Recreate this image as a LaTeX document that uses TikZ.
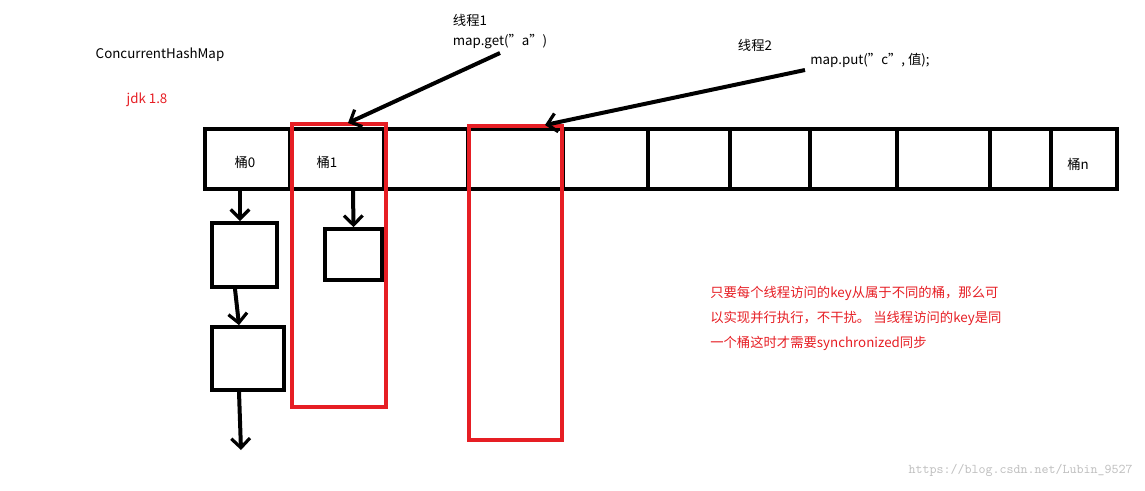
\documentclass[tikz,border=0pt]{standalone}
\usepackage{fontspec}
\setmainfont{Noto Sans CJK SC}
\usetikzlibrary{arrows.meta}
\tikzset{%
  tipV/.tip={Straight Barb[length=7pt,width=14pt,line width=2.4pt]},
  blk/.style={draw=black, line width=3pt},
  txt/.style={font=\fontsize{10pt}{12pt}\selectfont, inner sep=0pt},
}
\definecolor{wred}{RGB}{230,30,36}
\begin{document}
\begin{tikzpicture}[x=0.75pt,y=-0.75pt]
\useasboundingbox (0,0) rectangle (1145,490);
% array of buckets
\draw[blk] (205,129) rectangle (1117,189);
\foreach \xx in {290,384,468,563,648,730,810,897,990,1051}
  \draw[blk] (\xx,129) -- (\xx,189);
\node[txt] (b0) at (245,162) {桶0};
\node[txt] (b1) at (327,162) {桶1};
\node[txt] (bn) at (1078,164) {桶n};
% chains
\node[blk, minimum width=48.75pt, minimum height=48pt] (e0a) at (244.5,255) {};
\node[blk, minimum width=54pt, minimum height=47pt] (e0b) at (248,358.5) {};
\node[blk, minimum width=42.75pt, minimum height=38pt] (e1a) at (353.5,254.5) {};
\coordinate (h0) at (240,190);
\coordinate (h1) at (353,191);
\coordinate (tail) at (241,450);
\coordinate (a0) at (235,0);
\coordinate (a1) at (239,0);
\draw[blk, -tipV] (h0) -- (e0a.north -| h0);
\draw[blk, -tipV] (h1) -- (e1a.north);
\draw[blk, -tipV] (e0a.south -| a0) -- (e0b.north -| a1);
\draw[blk, -tipV] (e0b.south -| a1) -- (tail);
% locked buckets
\draw[draw=wred, line width=3pt] (292,124) rectangle (386,407);
\draw[draw=wred, line width=3pt] (469,126) rectangle (562,440);
% threads
\node[txt] (t1) at (470,20) {线程1};
\node[txt] (g1) at (500,42) {map.get("a")};
\node[txt] (t2) at (755,45) {线程2};
\node[txt] (p2) at (870,60) {map.put("c", 值);};
\coordinate (s1) at (500,53);
\coordinate (s2) at (805,70);
\draw[blk, -tipV] (s1) -- (348,123);
\draw[blk, -tipV] (s2) -- (545,125);
% titles
\node[txt] (chm) at (160,55) {ConcurrentHashMap};
\node[txt, text=wred] (jdk) at (147,100) {jdk 1.8};
\node[txt, text=wred, anchor=west, align=left, font=\fontsize{10pt}{18.75pt}\selectfont] (note) at (710,318)
  {只要每个线程访问的key从属于不同的桶，那么可\\以实现并行执行，不干扰。 当线程访问的key是同\\一个桶这时才需要synchronized同步};
\node[txt, text=black!25, anchor=east, font=\ttfamily\fontsize{10pt}{12pt}\selectfont] (wm) at (1133,470) {https://blog.csdn.net/Lubin\_9527};
\end{tikzpicture}
\end{document}
